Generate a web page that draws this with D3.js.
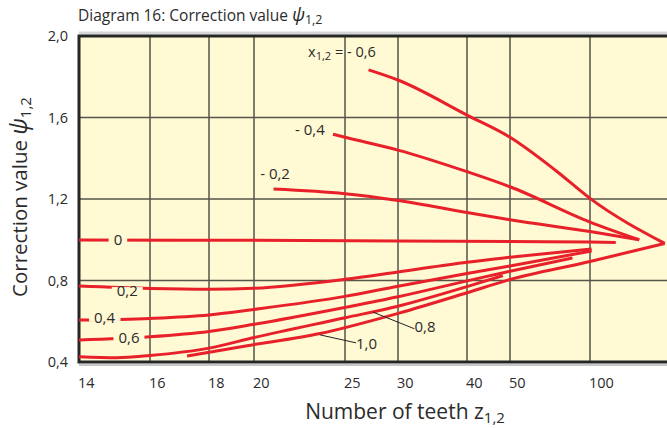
<!DOCTYPE html>
<html>
<head>
<meta charset="utf-8">
<script src="https://cdn.jsdelivr.net/npm/d3@7"></script>
<style>
  body { margin: 0; background: #fff; }
  text { font-family: "Open Sans", "Noto Sans", sans-serif; fill: #2b2b2b; }
</style>
</head>
<body>
<svg id="chart" width="667" height="428"></svg>
<script>
// values: [teeth z, correction value psi]
var xTicks = [14, 16, 18, 20, 25, 30, 40, 50, 100];
var yTicks = [0.4, 0.8, 1.2, 1.6, 2.0];

var psiM06 = [[27, 1.834], [30, 1.784], [40, 1.612], [50, 1.503], [70, 1.34], [100, 1.203], [1000, 0.982]];
var psiM04 = [[24.2, 1.518], [25, 1.503], [30, 1.44], [40, 1.334], [50, 1.26], [100, 1.087], [246, 1.0]];
var psiM02 = [[20.9, 1.249], [25, 1.226], [30, 1.193], [40, 1.134], [50, 1.098], [100, 1.04], [246, 1.0]];
var psi0   = [[14, 0.999], [20, 0.997], [30, 0.994], [50, 0.991], [100, 0.989], [145, 0.987]];
var psi02  = [[14, 0.773], [16, 0.761], [18, 0.757], [20, 0.762], [25, 0.806], [30, 0.842], [40, 0.89], [50, 0.914], [102, 0.955]];
var psi04  = [[14, 0.606], [16, 0.614], [18, 0.631], [20, 0.658], [25, 0.722], [30, 0.772], [40, 0.834], [50, 0.871], [102, 0.945]];
var psi06  = [[14, 0.508], [16, 0.524], [18, 0.55], [20, 0.585], [25, 0.668], [30, 0.72], [40, 0.798], [50, 0.845], [82, 0.911]];
var psi08  = [[14, 0.426], [15, 0.421], [16, 0.432], [18, 0.468], [20, 0.52], [25, 0.617], [30, 0.674], [40, 0.77], [48, 0.824]];
var psi10  = [[17.2, 0.429], [19.6, 0.479], [23.4, 0.54], [30.1, 0.64], [40, 0.74], [49.4, 0.802], [100, 0.893], [1000, 0.982]];

var series = [psiM06, psiM04, psiM02, psi0, psi02, psi04, psi06, psi08, psi10];

// curve labels, placed in data coords [z, psi]
var curveLabels = [
  {t: "- 0,2", z: 20.97, v: 1.323, anchor: "middle"},
  {t: "- 0,4", z: 22.8, v: 1.539, anchor: "middle"},
  {t: "0",   z: 15.03, v: 1.0,   anchor: "middle", gap: true},
  {t: "0,2", z: 15.3,  v: 0.748, anchor: "middle", gap: true},
  {t: "0,4", z: 14.66, v: 0.617, anchor: "middle", gap: true},
  {t: "0,6", z: 15.35, v: 0.519, anchor: "middle", gap: true},
  {t: "0,8", z: 31.9,  v: 0.576, anchor: "start"},
  {t: "1,0", z: 25.9,  v: 0.492, anchor: "start"}
];
var leaders = [
  [[27.4, 0.645], [31.9, 0.563]],
  [[23.4, 0.533], [25.9, 0.494]]
];

var W = 667, H = 428;
var bg = "#fff9d4", red = "#e8202a", grid = "#55554a";
var yTop = 36, yBottom = 362, xLeft = 79;
// the printed z axis is roughly 1/z but not evenly; gridline pixels per tick, last = z -> infinity
var xGridPx = [79, 150, 209, 254, 345, 398, 467, 510, 590, 673];

var xu = d3.scaleLinear()
  .domain(xTicks.map(function(z) { return 1 / z; }).concat([0]))
  .range(xGridPx);
var x = function(z) { return xu(1 / z); };
var y = d3.scaleLinear().domain([0.4, 2.0]).range([yBottom, yTop]);

var fmt = d3.formatLocale({decimal: ",", thousands: ".", grouping: [3], currency: ["", ""]}).format(".1f");

var svg = d3.select("#chart");

svg.append("rect")
  .attr("x", xLeft).attr("y", yTop)
  .attr("width", W - xLeft + 5).attr("height", yBottom - yTop)
  .attr("fill", bg);

// shadow strips along the frame
svg.append("line").attr("x1", xLeft).attr("x2", W).attr("y1", yTop - 3).attr("y2", yTop - 3)
  .attr("stroke", "#d6d6d6").attr("stroke-width", 3);
svg.append("line").attr("x1", xLeft).attr("x2", W).attr("y1", yBottom + 3).attr("y2", yBottom + 3)
  .attr("stroke", "#c8c8c8").attr("stroke-width", 2);

var g = svg.append("g");

g.selectAll("line.vgrid")
  .data(xTicks.slice(1))
  .enter().append("line")
  .attr("class", "vgrid")
  .attr("x1", function(d) { return x(d); })
  .attr("x2", function(d) { return x(d); })
  .attr("y1", yTop).attr("y2", yBottom)
  .attr("stroke", grid).attr("stroke-width", 1.5);

g.selectAll("line.hgrid")
  .data(yTicks.slice(1, -1))
  .enter().append("line")
  .attr("class", "hgrid")
  .attr("x1", xLeft).attr("x2", W)
  .attr("y1", function(d) { return y(d); })
  .attr("y2", function(d) { return y(d); })
  .attr("stroke", grid).attr("stroke-width", 1.5);

// frame
g.append("path")
  .attr("d", "M" + (W + 5) + "," + yTop + "H" + xLeft + "V" + yBottom + "H" + (W + 5))
  .attr("fill", "none").attr("stroke", "#262626").attr("stroke-width", 3);

var line = d3.line()
  .x(function(d) { return x(d[0]); })
  .y(function(d) { return y(d[1]); })
  .curve(d3.curveMonotoneX);

g.selectAll("path.curve")
  .data(series)
  .enter().append("path")
  .attr("class", "curve")
  .attr("d", line)
  .attr("fill", "none")
  .attr("stroke", red)
  .attr("stroke-width", 3)
  .attr("stroke-linecap", "butt");

g.selectAll("path.leader")
  .data(leaders)
  .enter().append("path")
  .attr("class", "leader")
  .attr("d", d3.line().x(function(d) { return x(d[0]); }).y(function(d) { return y(d[1]); }))
  .attr("stroke", "#222").attr("stroke-width", 1);

curveLabels.forEach(function(c) {
  var t = g.append("text")
    .attr("x", x(c.z)).attr("y", y(c.v))
    .attr("dy", "0.36em")
    .attr("text-anchor", c.anchor)
    .style("font-size", "15px")
    .text(c.t);
  if (c.gap) {
    var b = t.node().getBBox();
    g.insert("rect", function() { return t.node(); })
      .attr("x", b.x - 5).attr("y", y(c.v) - 4)
      .attr("width", b.width + 10).attr("height", 8)
      .attr("fill", bg);
  }
});

// x_1,2 = - 0,6
var t6 = g.append("text")
  .attr("x", x(22.7)).attr("y", y(1.897))
  .style("font-size", "14.5px");
t6.append("tspan").text("x");
t6.append("tspan").attr("dy", 3).style("font-size", "11px").text("1,2");
t6.append("tspan").attr("dy", -3).text(" = - 0,6");

// y tick labels
svg.selectAll("text.ytick")
  .data(yTicks)
  .enter().append("text")
  .attr("class", "ytick")
  .attr("x", xLeft - 11)
  .attr("y", function(d) { return y(d); })
  .attr("dy", "0.36em")
  .attr("text-anchor", "end")
  .style("font-size", "14.5px")
  .text(function(d) { return fmt(d); });

// x tick labels, left aligned at their gridlines
svg.selectAll("text.xtick")
  .data(xTicks)
  .enter().append("text")
  .attr("class", "xtick")
  .attr("x", function(d) { return x(d) - 1; })
  .attr("y", 388)
  .style("font-size", "14.5px")
  .text(function(d) { return d; });

// title
var title = svg.append("text").attr("x", 78).attr("y", 21).style("font-size", "15.5px");
title.append("tspan").text("Diagram 16: Correction value ");
title.append("tspan").style("font-style", "italic").style("font-size", "18px").text("ψ");
title.append("tspan").attr("dy", 3).style("font-size", "12.5px").text("1,2");

// x axis title
var xt = svg.append("text").attr("x", 405).attr("y", 419)
  .attr("text-anchor", "middle").style("font-size", "21px");
xt.append("tspan").text("Number of teeth z");
xt.append("tspan").attr("dy", 4).style("font-size", "15px").text("1,2");

// y axis title
var yt = svg.append("text")
  .attr("transform", "translate(27," + 197 + ") rotate(-90)")
  .attr("text-anchor", "middle").style("font-size", "20.5px");
yt.append("tspan").text("Correction value ");
yt.append("tspan").style("font-style", "italic").style("font-size", "23px").text("ψ");
yt.append("tspan").attr("dy", 4).style("font-size", "15px").text("1,2");
</script>
</body>
</html>
